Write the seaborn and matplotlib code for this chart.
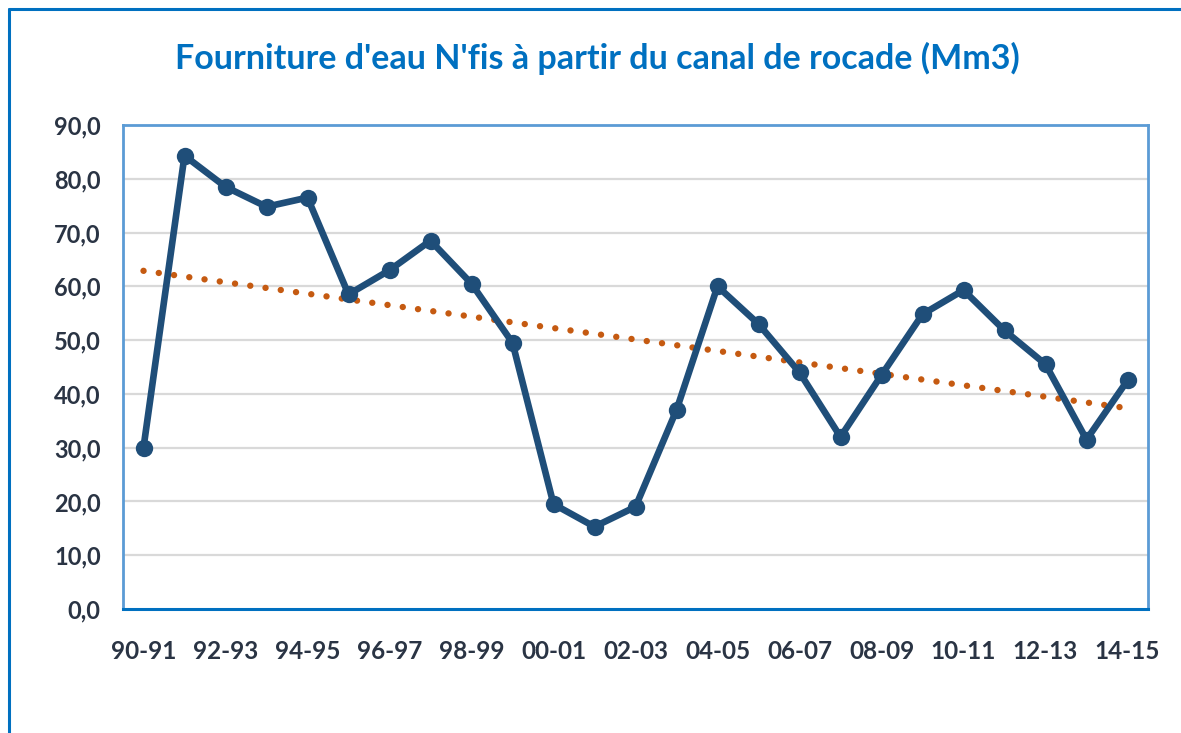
import numpy as np
import pandas as pd
import matplotlib
matplotlib.use("Agg")
import matplotlib.pyplot as plt
from matplotlib.lines import Line2D
from matplotlib.ticker import FuncFormatter, FixedLocator
import seaborn as sns

# Water supply per season (Mm3)
seasons = ["90-91", "91-92", "92-93", "93-94", "94-95", "95-96", "96-97", "97-98",
           "98-99", "99-00", "00-01", "01-02", "02-03", "03-04", "04-05", "05-06",
           "06-07", "07-08", "08-09", "09-10", "10-11", "11-12", "12-13", "13-14",
           "14-15"]
volumes = [30.0, 84.3, 78.5, 74.8, 76.5, 58.5, 63.0, 68.5, 60.5, 49.5, 19.5, 15.3,
           19.0, 37.0, 60.0, 53.0, 44.0, 32.0, 43.5, 54.8, 59.3, 51.8, 45.5, 31.5,
           42.5]
y_ticks = [0, 10, 20, 30, 40, 50, 60, 70, 80, 90]

df = pd.DataFrame({"idx": np.arange(len(seasons)), "season": seasons, "volume": volumes})

sns.set_style("white")
plt.rcParams["font.family"] = ["Lato", "DejaVu Sans"]

text_col = "#2A3444"
line_col = "#1F4E79"
trend_col = "#C55A11"
frame_col = "#0070C0"
spine_light = "#5B9BD5"

fig = plt.figure(figsize=(11.81, 7.33), dpi=100)
ax = fig.add_axes([123 / 1181, 1 - 609 / 733, (1148 - 123) / 1181, (609 - 125) / 733])

# horizontal gridlines
for v in y_ticks[1:-1]:
    ax.axhline(v, color="#D9D9D9", lw=1.6, zorder=0)

# linear trend (dotted)
sns.regplot(data=df, x="idx", y="volume", ax=ax, scatter=False, ci=None,
            truncate=True,
            line_kws=dict(color=trend_col, lw=4.6, linestyle=(0, (0.01, 2.4)),
                          dash_capstyle="round", zorder=2))

# main series
sns.lineplot(data=df, x="idx", y="volume", ax=ax, color=line_col, lw=4.8,
             marker="o", markersize=12.5, markeredgewidth=0, zorder=3)

ax.set_xlim(-0.5, len(seasons) - 0.5)
ax.set_ylim(0, 90)
ax.set_xlabel("")
ax.set_ylabel("")

# y axis
ax.set_yticks(y_ticks)
ax.yaxis.set_major_formatter(FuncFormatter(lambda v, p: f"{v:.1f}".replace(".", ",")))
ax.tick_params(axis="y", which="major", direction="out", length=6, width=1.6,
               color=spine_light, labelsize=17, labelcolor=text_col, pad=10)

# x axis: labels on every other season, tick marks every three categories
label_pos = list(range(0, len(seasons), 2))
ax.xaxis.set_major_locator(FixedLocator(label_pos))
ax.set_xticklabels([seasons[i] for i in label_pos])
ax.xaxis.set_minor_locator(FixedLocator(np.arange(-0.5, len(seasons) - 1, 3)))
ax.tick_params(axis="x", which="major", length=0, labelsize=17.5,
               labelcolor=text_col, pad=22)
ax.tick_params(axis="x", which="minor", direction="out", length=6, width=2,
               color=frame_col)
for lab in ax.get_xticklabels() + ax.get_yticklabels():
    lab.set_fontweight("bold")

for side in ["left", "top", "right"]:
    ax.spines[side].set_color(spine_light)
    ax.spines[side].set_linewidth(2)
    ax.spines[side].set_visible(True)
ax.spines["bottom"].set_color(frame_col)
ax.spines["bottom"].set_linewidth(2.2)
ax.spines["bottom"].set_zorder(4)

fig.text(597 / 1181, 1 - 58 / 733, "Fourniture d'eau N'fis à partir du canal de rocade (Mm3)",
         ha="center", va="center", color=frame_col, fontsize=24.5, fontweight="bold")

# outer chart frame (left and top edges)
fig.add_artist(Line2D([8.5 / 1181, 8.5 / 1181], [0, 1 - 9 / 733],
                      color=frame_col, lw=2.2, transform=fig.transFigure))
fig.add_artist(Line2D([8.5 / 1181, 1], [1 - 9 / 733, 1 - 9 / 733],
                      color=frame_col, lw=2.2, transform=fig.transFigure))

fig.savefig("out.png", dpi=100)
